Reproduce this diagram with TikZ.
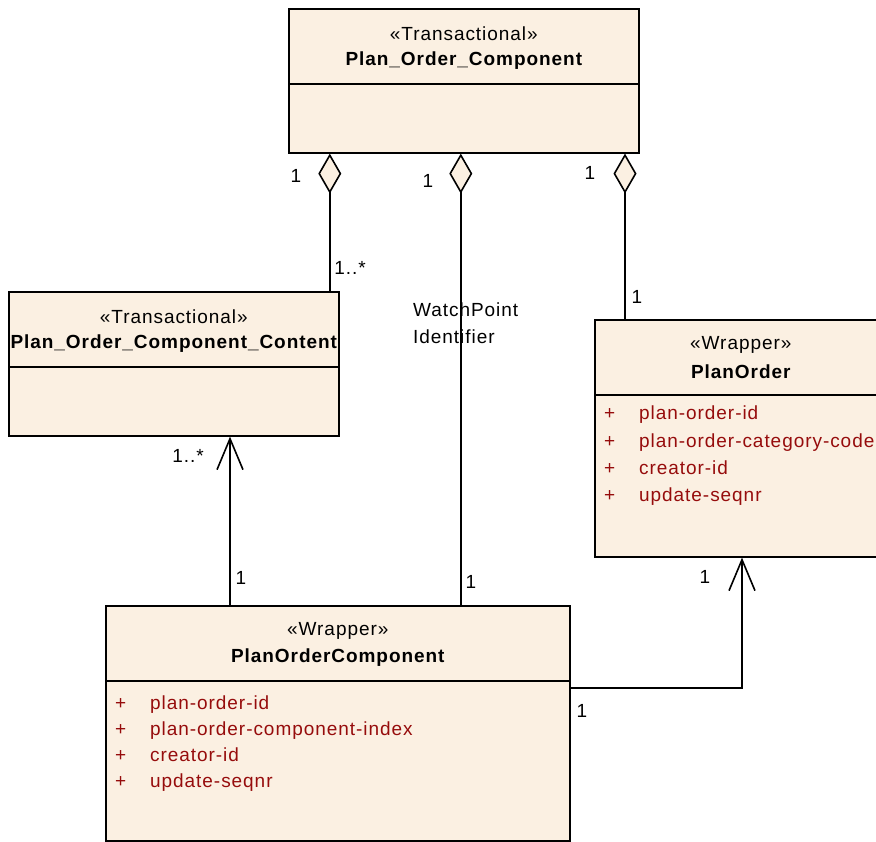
\documentclass[tikz,border=0pt]{standalone}
\usepackage{fontspec}
\newfontfamily\umlfont{Liberation Sans}[LetterSpace=5]
\usetikzlibrary{arrows.meta,calc,positioning}
\definecolor{umlfill}{RGB}{251,240,226}
\definecolor{attrred}{RGB}{150,12,12}
\tikzset{
  umlclass/.style={draw, line width=1.6pt, fill=umlfill, inner sep=0pt, anchor=north west},
  stereo/.style={font=\umlfont\fontsize{19}{21}\selectfont, inner sep=0pt},
  cname/.style={font=\umlfont\fontsize{19}{21}\selectfont\bfseries, inner sep=0pt},
  attr/.style={font=\umlfont\fontsize{19}{21}\selectfont, text=attrred, anchor=base west, inner sep=0pt},
  mult/.style={font=\umlfont\fontsize{19}{21}\selectfont, inner sep=0pt},
  aggr/.style={line width=1.6pt, {Diamond[length=40pt,width=23pt,fill=umlfill,line width=1.6pt]}-},
  nav/.style={line width=1.6pt, -{Straight Barb[length=31pt,width=26pt,line width=1.6pt]}}
}
\begin{document}
\begin{tikzpicture}[x=1pt, y=-1pt]
\useasboundingbox (0,0) rectangle (876,842);
\clip (0,0) rectangle (876,842);
% --- classi ---
\node[umlclass, minimum width=350pt, minimum height=144pt] (poc) at (288,8) {};
\node[umlclass, minimum width=330pt, minimum height=144pt] (pocc) at (8,291) {};
\node[umlclass, minimum width=292pt, minimum height=237pt] (po) at (594,319) {};
\node[umlclass, minimum width=464pt, minimum height=235pt] (pocmp) at (105,605) {};
% intestazioni
\foreach \b/\st/\nm in {poc/Transactional/Plan\_Order\_Component,
    pocc/Transactional/Plan\_Order\_Component\_Content,
    po/Wrapper/PlanOrder, pocmp/Wrapper/PlanOrderComponent}{
  \node[stereo] (\b-st) at ([yshift=-26pt]\b.north) {«\st»};
  \node[cname] (\b-nm) at ([yshift=-53pt]\b.north) {\nm};
  \draw[line width=1.6pt] ([yshift=-76pt]\b.north west) -- ([yshift=-76pt]\b.north east);
}
% attributi
\foreach \a [count=\i] in {plan-order-id, plan-order-category-code, creator-id, update-seqnr}{
  \node[attr] (po-p\i) at ([xshift=10pt, yshift={-101pt-(\i-1)*27pt}]po.north west) {+};
  \node[attr] (po-a\i) at ([xshift=45pt, yshift={-101pt-(\i-1)*27pt}]po.north west) {\a};
}
\foreach \a [count=\i] in {plan-order-id, plan-order-component-index, creator-id, update-seqnr}{
  \node[attr] (pocmp-p\i) at ([xshift=10pt, yshift={-104pt-(\i-1)*26pt}]pocmp.north west) {+};
  \node[attr] (pocmp-a\i) at ([xshift=45pt, yshift={-104pt-(\i-1)*26pt}]pocmp.north west) {\a};
}
% --- associazioni ---
\draw[aggr] ([xshift=-9.8pt]pocc.north east |- poc.south) -- ([xshift=-9.8pt]pocc.north east);
\draw[aggr] ([xshift=-3pt]poc.south) -- ([xshift=-3pt]poc.south |- pocmp.north);
\draw[aggr] ([xshift=31pt]po.north west |- poc.south) -- ([xshift=31pt]po.north west);
\draw[nav] ([xshift=125pt]pocmp.north west) -- ([xshift=125pt]pocmp.north west |- pocc.south);
\draw[nav] ([yshift=-83pt]pocmp.north east) -| ([xshift=148pt]po.south west);
% molteplicita
\node[mult] (m1) at (296,176) {1};
\node[mult] (m2) at (350,268) {1..*};
\node[mult] (m3) at (428,181) {1};
\node[mult] (m4) at (471,582) {1};
\node[mult] (m5) at (590,173) {1};
\node[mult] (m6) at (637,297) {1};
\node[mult] (m7) at (188,456) {1..*};
\node[mult] (m8) at (241,578) {1};
\node[mult] (m9) at (705,577) {1};
\node[mult] (m10) at (582,711) {1};
\node[mult, anchor=west, align=left] (wp) at (413,323) {WatchPoint\\[6pt]Identifier};
\end{tikzpicture}
\end{document}
